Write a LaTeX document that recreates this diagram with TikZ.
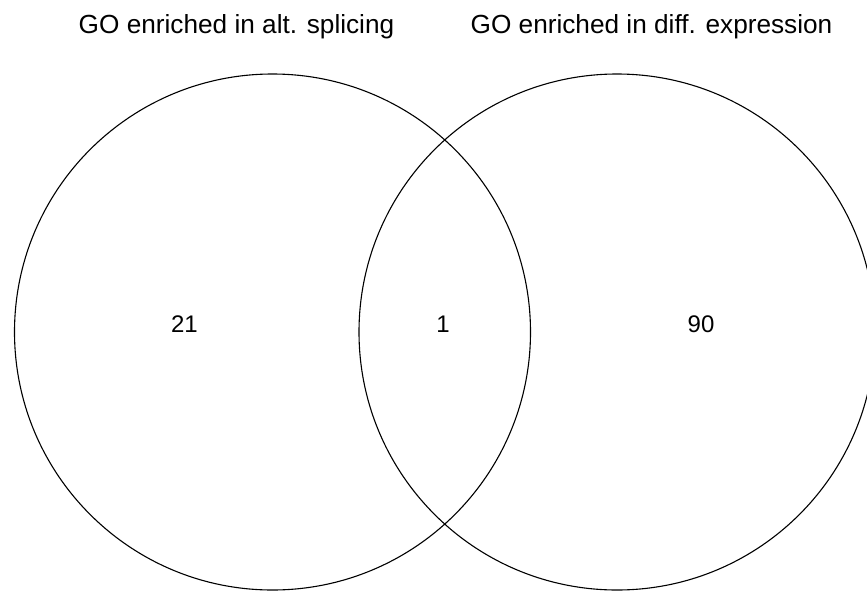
\documentclass[tikz,border=0pt]{standalone}
\usepackage{fontspec}
\setmainfont{Liberation Sans}
\begin{document}
\begin{tikzpicture}[x=1pt,y=-1pt,
  ring/.style={draw=black,line width=1.1pt},
  lbl/.style={font=\fontsize{26.2}{30}\selectfont,inner sep=0pt,anchor=base},
  num/.style={font=\fontsize{24}{28}\selectfont,inner sep=0pt,anchor=base}]
\useasboundingbox[fill=white] (0,0) rectangle (867,592);
\clip (0,0) rectangle (867,592);
\draw[ring] (272.5,332) circle[radius=258];
\draw[ring] (617,332) circle[radius=258];
\node[lbl] (tA) at (236.5,33) {GO enriched in alt. splicing};
\node[lbl] (tB) at (651.5,33) {GO enriched in diff. expression};
\node[num] (nA) at (184.5,332) {21};
\node[num] (nAB) at (443,332) {1};
\node[num] (nB) at (701,332) {90};
\end{tikzpicture}
\end{document}
